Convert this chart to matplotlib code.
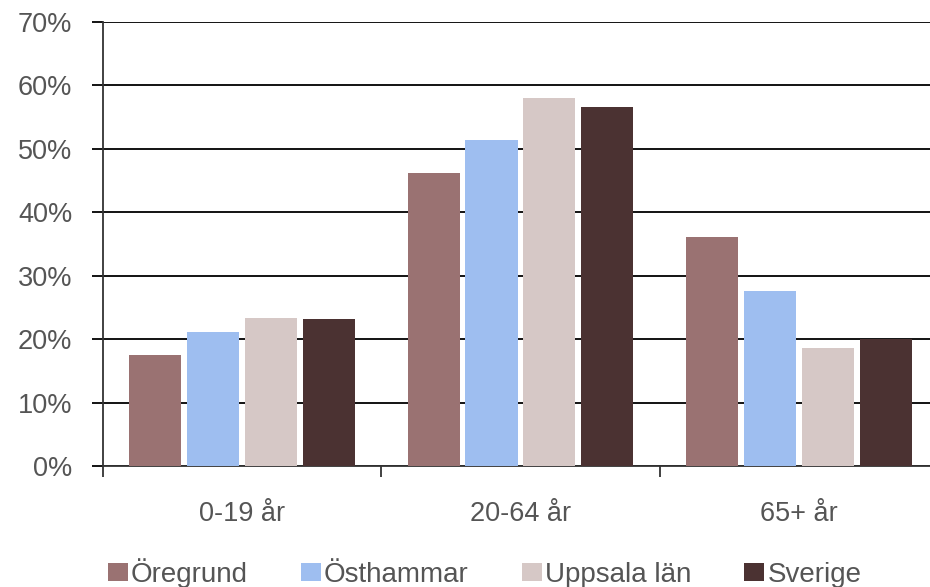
import matplotlib
matplotlib.use("Agg")
import matplotlib.pyplot as plt
from matplotlib.patches import Patch
import numpy as np

plt.rcParams['font.family'] = ['Liberation Sans', 'DejaVu Sans']

categories = ["0-19 år", "20-64 år", "65+ år"]
series_names = ["Öregrund", "Östhammar", "Uppsala län", "Sverige"]
oregrund = [17.5, 46.2, 36.1]
osthammar = [21.1, 51.4, 27.6]
uppsala = [23.3, 58.0, 18.6]
sverige = [23.2, 56.6, 20.0]
y_ticks = [0, 10, 20, 30, 40, 50, 60, 70]

colors = ["#9a7272", "#9ebef0", "#d6c8c6", "#4b3232"]
text_color = "#555555"

fig = plt.figure(figsize=(9.30, 5.87), dpi=100)
ax = fig.add_axes([103 / 930, 121 / 587, 827 / 930, 444 / 587])

x = np.arange(len(categories))
step = 0.208
width = 0.187
for i, (vals, col) in enumerate(zip([oregrund, osthammar, uppsala, sverige], colors)):
    ax.bar(x + (i - 1.5) * step, vals, width=width, color=col, zorder=3,
           label=series_names[i])

ax.set_ylim(0, 70)
ax.set_xlim(-0.5, -0.5 + 827 / 278.3)
ax.set_yticks(y_ticks)
ax.set_yticklabels([f"{v}%" for v in y_ticks])
ax.yaxis.grid(True, color="black", linewidth=1.3, zorder=1)
ax.set_axisbelow(True)

ax.set_xticks(x)
ax.set_xticklabels(categories)
ax.set_xticks(np.arange(len(categories)) - 0.5, minor=True)
ax.tick_params(axis="x", which="major", length=0, pad=25, labelsize=19.5, labelcolor=text_color)
ax.tick_params(axis="x", which="minor", length=8, width=1.3, color="#333333", direction="out")
ax.tick_params(axis="y", length=8, width=1.3, color="black", pad=14, labelsize=19.5,
               labelcolor=text_color)

for side in ["top", "right"]:
    ax.spines[side].set_visible(False)
ax.spines["left"].set_color("#333333")
ax.spines["left"].set_linewidth(1.3)
ax.spines["bottom"].set_color("#333333")
ax.spines["bottom"].set_linewidth(1.3)

handles = [Patch(facecolor=c, edgecolor="none") for c in colors]
fig.legend(handles, series_names, loc="center", bbox_to_anchor=(0.521, 14 / 587),
           ncol=4, frameon=False, fontsize=20, labelcolor=text_color,
           handlelength=0.72, handleheight=0.65, handletextpad=0.12, columnspacing=1.9,
           borderpad=0)

fig.savefig("out.png", dpi=100, facecolor="white")
